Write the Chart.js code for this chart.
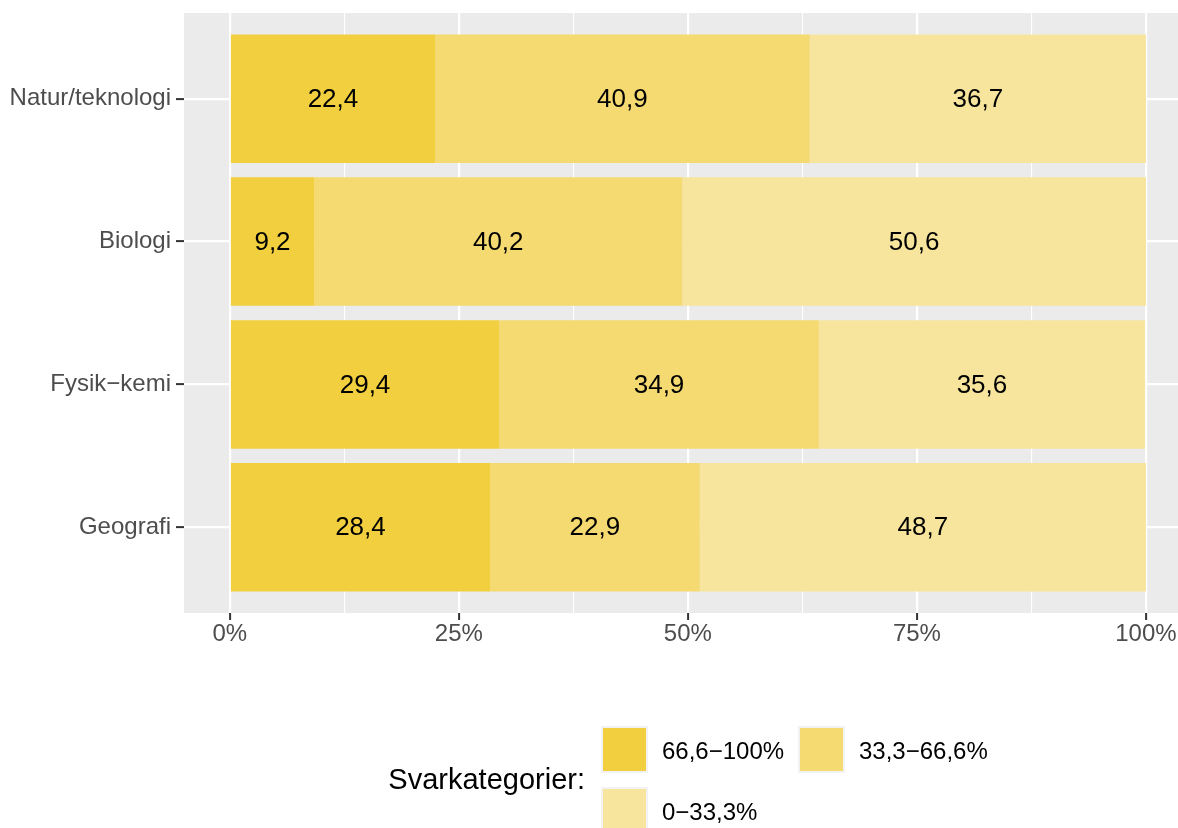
<!DOCTYPE html>
<html>
<head>
<meta charset="utf-8">
<script src="https://cdn.jsdelivr.net/npm/chart.js@4/dist/chart.umd.min.js"></script>
<style>
  html, body { margin: 0; padding: 0; background: #ffffff; overflow: hidden; }
</style>
</head>
<body>
<canvas id="chart" width="1178" height="828"></canvas>
<script>
// categories top to bottom
const categories = ["Natur/teknologi", "Biologi", "Fysik\u2212kemi", "Geografi"];

// share of answers per category (%)
const high = [22.4, 9.2, 29.4, 28.4]; // 66,6-100%
const mid = [40.9, 40.2, 34.9, 22.9]; // 33,3-66,6%
const low = [36.7, 50.6, 35.6, 48.7]; // 0-33,3%

const seriesLabels = ["66,6\u2212100%", "33,3\u221266,6%", "0\u221233,3%"];
const seriesColors = ["#F2CF3E", "#F5DA71", "#F7E59D"];
const xTicks = [0, 25, 50, 75, 100];

const FONT = "'Liberation Sans', Arial, sans-serif";

// minor gridlines halfway between the major ones
const minorTicks = xTicks.slice(1).map((t, i) => (t + xTicks[i]) / 2);
const allXTicks = xTicks.concat(minorTicks).sort((a, b) => a - b);

const toPoints = (arr) => arr.map((v, i) => ({ x: v, y: i + 1 }));

// grey panel behind the bars
const panelBg = {
  id: "panelBg",
  beforeDraw(chart) {
    const { ctx, chartArea } = chart;
    ctx.save();
    ctx.fillStyle = "#EBEBEB";
    ctx.fillRect(chartArea.left, chartArea.top, chartArea.right - chartArea.left, chartArea.bottom - chartArea.top);
    ctx.restore();
  },
};

// value labels in the middle of each segment
const barLabels = {
  id: "barLabels",
  afterDatasetsDraw(chart) {
    const { ctx } = chart;
    ctx.save();
    ctx.font = "26px " + FONT;
    ctx.fillStyle = "#000000";
    ctx.textAlign = "center";
    ctx.textBaseline = "middle";
    chart.data.datasets.forEach((ds, di) => {
      chart.getDatasetMeta(di).data.forEach((bar, i) => {
        const p = bar.getCenterPoint();
        ctx.fillText(ds.data[i].x.toFixed(1).replace(".", ","), p.x, p.y + 1);
      });
    });
    ctx.restore();
  },
};

// ggplot-style legend at the bottom
const bottomLegend = {
  id: "bottomLegend",
  afterDraw(chart) {
    const { ctx } = chart;
    const keys = [[601, 726], [798, 726], [601, 787]];
    const size = 47;
    ctx.save();
    ctx.fillStyle = "#000000";
    ctx.font = "29px " + FONT;
    ctx.textAlign = "right";
    ctx.textBaseline = "alphabetic";
    ctx.fillText("Svarkategorier:", 585, 789);
    ctx.font = "24px " + FONT;
    ctx.textAlign = "left";
    chart.data.datasets.forEach((ds, i) => {
      const [kx, ky] = keys[i];
      ctx.fillStyle = "#F2F2F2";
      ctx.fillRect(kx, ky, size, size);
      ctx.fillStyle = ds.backgroundColor;
      ctx.fillRect(kx + 2, ky + 2, size - 4, size - 4);
      ctx.fillStyle = "#000000";
      ctx.fillText(ds.label, kx + 61, ky + 33);
    });
    ctx.restore();
  },
};

const datasets = [high, mid, low].map((vals, i) => ({
  label: seriesLabels[i],
  data: toPoints(vals),
  backgroundColor: seriesColors[i],
  borderWidth: 0,
  categoryPercentage: 0.9,
  barPercentage: 1.0,
}));

new Chart(document.getElementById("chart"), {
  type: "bar",
  data: { datasets },
  options: {
    indexAxis: "y",
    responsive: false,
    animation: false,
    layout: { padding: { top: 13, right: 0, left: 0, bottom: 0 } },
    plugins: {
      legend: { display: false },
      tooltip: { enabled: false },
    },
    scales: {
      x: {
        type: "linear",
        stacked: true,
        min: -5,
        max: 103.5,
        afterBuildTicks: (scale) => {
          scale.ticks = allXTicks.map((v) => ({ value: v }));
        },
        afterFit: (scale) => {
          scale.height = 215;
        },
        border: { display: false },
        grid: {
          color: "#FFFFFF",
          lineWidth: (c) => (xTicks.includes(c.tick.value) ? 2.2 : 1.1),
          tickColor: (c) => (xTicks.includes(c.tick.value) ? "#333333" : "rgba(0,0,0,0)"),
          tickWidth: 2,
          tickLength: 7,
        },
        ticks: {
          autoSkip: false,
          maxRotation: 0,
          padding: 0,
          color: "#4D4D4D",
          font: { family: FONT, size: 24 },
          callback: (v) => (xTicks.includes(v) ? v + "%" : ""),
        },
      },
      y: {
        type: "linear",
        stacked: true,
        reverse: true,
        offset: false,
        min: 0.4,
        max: 4.6,
        afterBuildTicks: (scale) => {
          scale.ticks = categories.map((c, i) => ({ value: i + 1 }));
        },
        afterFit: (scale) => {
          scale.width = 184;
          scale.paddingTop = 0;
          scale.paddingBottom = 0;
        },
        border: { display: false },
        grid: {
          offset: false,
          color: "#FFFFFF",
          lineWidth: 2.2,
          tickColor: "#333333",
          tickWidth: 2,
          tickLength: 8,
        },
        ticks: {
          autoSkip: false,
          padding: 5,
          color: "#4D4D4D",
          font: { family: FONT, size: 24 },
          callback: (v) => categories[v - 1],
        },
      },
    },
  },
  plugins: [panelBg, barLabels, bottomLegend],
});
</script>
</body>
</html>
